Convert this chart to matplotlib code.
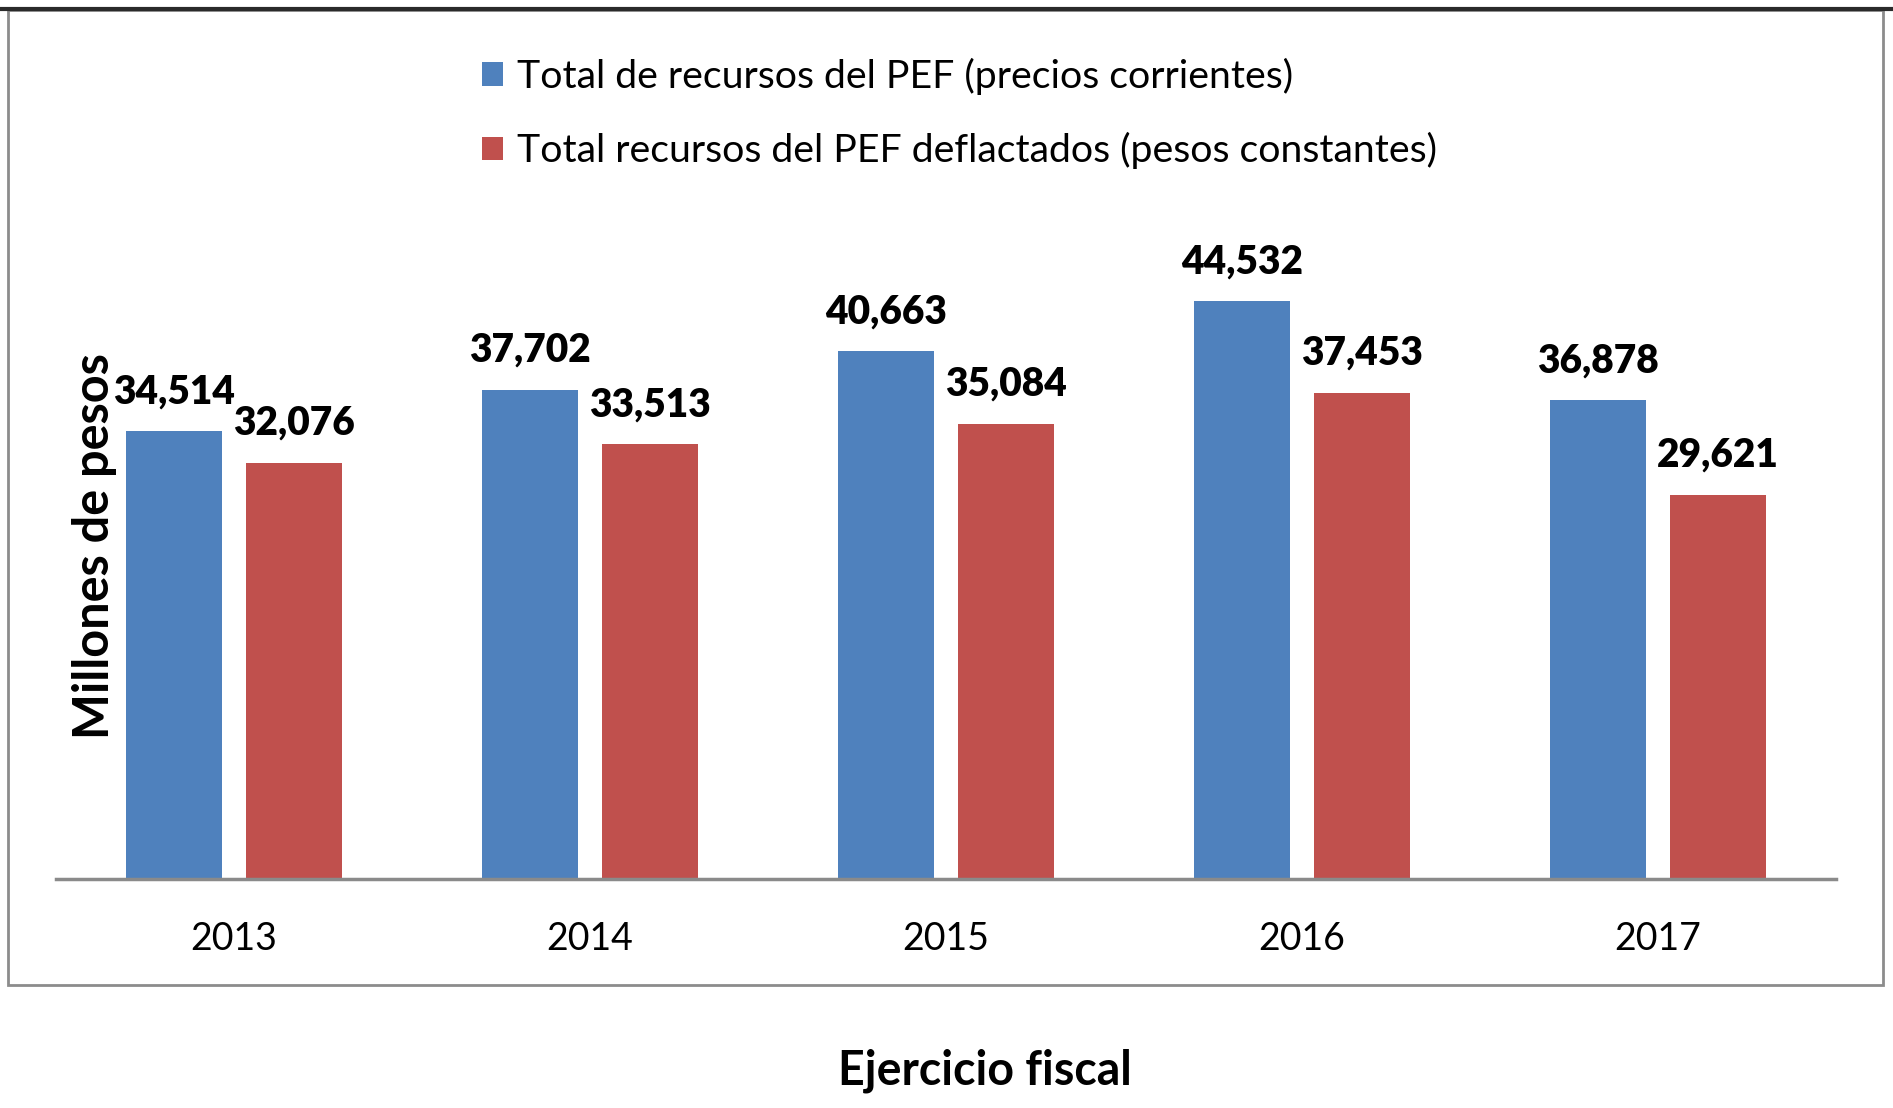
import numpy as np
import matplotlib.pyplot as plt
from matplotlib.patches import Rectangle
from matplotlib.lines import Line2D

years = ['2013', '2014', '2015', '2016', '2017']
corrientes = [34514, 37702, 40663, 44532, 36878]
constantes = [32076, 33513, 35084, 37453, 29621]
series_names = ['Total de recursos del PEF (precios corrientes)',
                'Total recursos del PEF deflactados (pesos constantes)']

BLUE = '#4F81BD'
RED = '#C0504D'
FONT = ['Lato', 'DejaVu Sans']

W, H = 1893, 1108
fig = plt.figure(figsize=(W / 100, H / 100), dpi=100)

# outer frame of the chart and dark rule at the top
fig.add_artist(Rectangle((8 / W, 1 - 985 / H), (1883 - 8) / W, (985 - 10) / H,
                         transform=fig.transFigure, fill=False,
                         edgecolor='#8c8c8c', linewidth=2))
fig.add_artist(Line2D([0, 1], [1 - 9 / H, 1 - 9 / H], transform=fig.transFigure,
                      color='#2a2a2a', linewidth=3))

ax = fig.add_axes([56 / W, (H - 879) / H, (1836 - 56) / W, (879 - 230) / H])
x = np.arange(len(years))
off = 0.168
width = 0.268
b1 = ax.bar(x - off, corrientes, width, color=BLUE, label=series_names[0])
b2 = ax.bar(x + off, constantes, width, color=RED, label=series_names[1])

for bars, vals in ((b1, corrientes), (b2, constantes)):
    for rect, v in zip(bars, vals):
        ax.annotate(f'{v:,}', (rect.get_x() + rect.get_width() / 2, v),
                    xytext=(0, 15), textcoords='offset points',
                    ha='center', va='bottom', fontsize=28, fontweight='heavy',
                    family=FONT)

ax.set_xlim(-0.5, 4.5)
ax.set_ylim(0, 50000)
ax.set_xticks(x)
ax.set_xticklabels(years, fontsize=27, family=FONT)
ax.tick_params(axis='x', length=0, pad=30)
ax.set_yticks([])
for s in ('top', 'right', 'left'):
    ax.spines[s].set_visible(False)
ax.spines['bottom'].set_color('#8a8a8a')
ax.spines['bottom'].set_linewidth(2.5)

fig.text(95 / W, 1 - 546 / H, 'Millones de pesos', rotation=90, ha='center',
         va='center', fontsize=35, fontweight='bold', family=FONT)
fig.text(985 / W, 1 - 1071 / H, 'Ejercicio fiscal', ha='center', va='center',
         fontsize=33.5, fontweight='bold', family=FONT)

leg = fig.legend(loc='upper left', bbox_to_anchor=(466 / W, 1 - 42 / H),
                 frameon=False, prop={'family': FONT, 'size': 28.3},
                 handlelength=0.55, handleheight=0.55, handletextpad=0.35,
                 labelspacing=0.95, borderaxespad=0)

fig.savefig('out.png', dpi=100)
